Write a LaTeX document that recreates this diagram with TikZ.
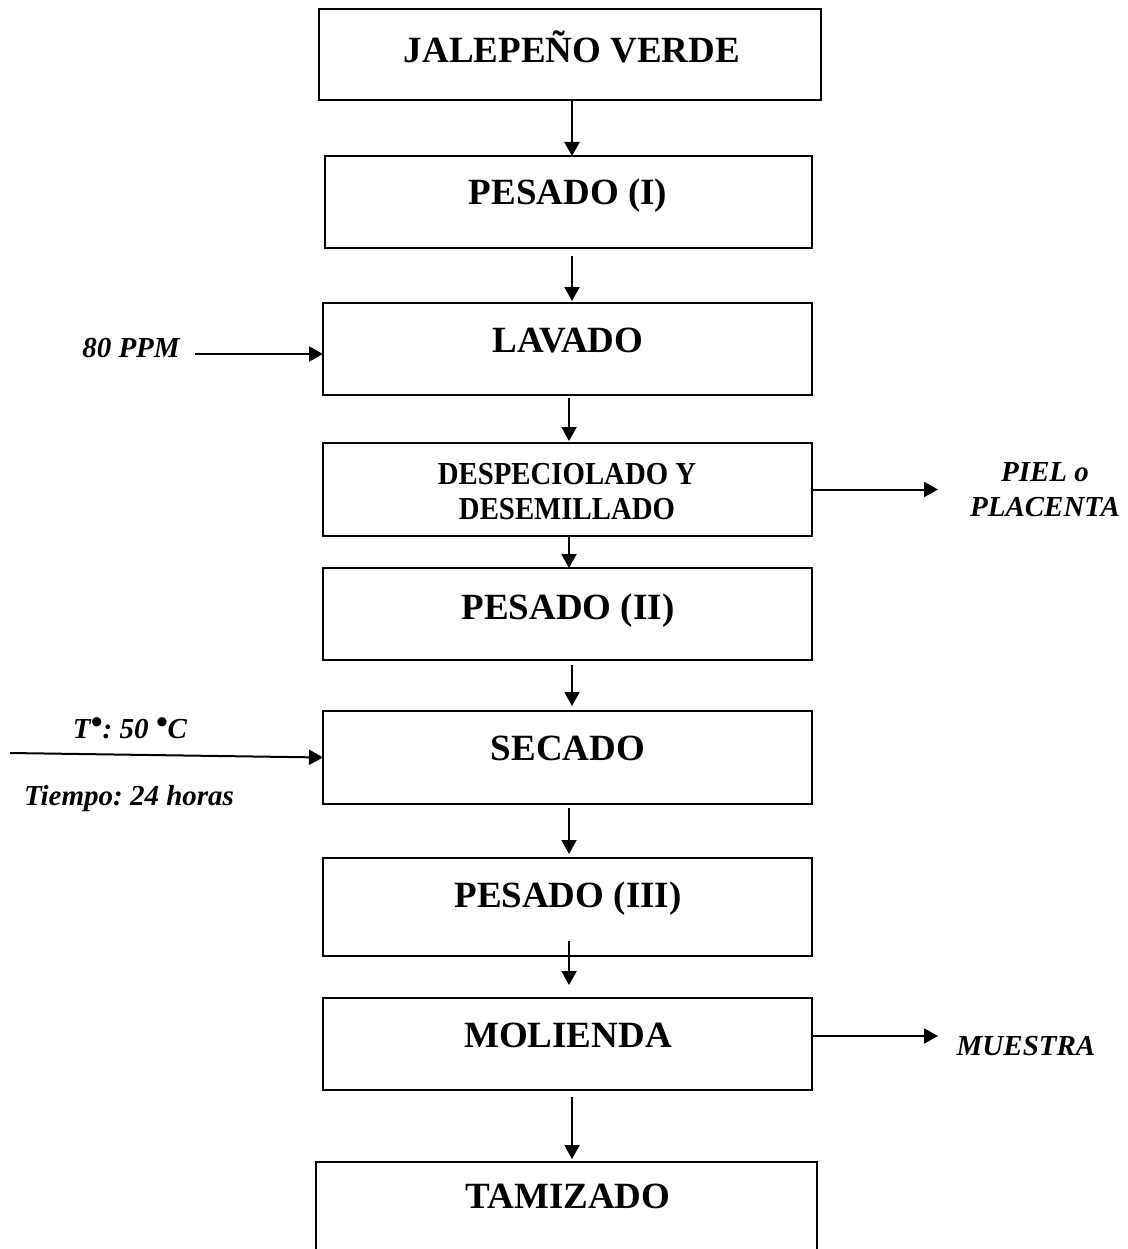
\documentclass[tikz,border=0pt]{standalone}
\usepackage{fontspec}
\setmainfont{Liberation Serif}
\newfontfamily\narrowserif{Liberation Serif}[FakeStretch=0.9]
\usetikzlibrary{arrows.meta,calc}
\frenchspacing

% raised bullet used as degree sign
\newcommand{\degdot}{\raisebox{5pt}{\fontsize{34}{34}\selectfont •}}

\begin{document}
\begin{tikzpicture}[x=1pt,y=-1pt,
  stage/.style={draw, line width=2pt, inner sep=0pt, outer sep=0pt, minimum width=489pt, minimum height=92pt},
  title/.style={font=\fontsize{37}{37}\selectfont\bfseries, inner sep=0pt, anchor=base},
  note/.style={font=\fontsize{29}{35}\selectfont\bfseries\itshape, inner sep=0pt, align=center},
  flow/.style={line width=2pt, -{Triangle[length=14pt,width=15pt]}},
]
\useasboundingbox (0,0) rectangle (1127,1249);
\fill[white] (0,0) rectangle (1127,1249);

% process stages
\node[stage, minimum width=502pt, minimum height=91pt] (b1) at (570,54.5) {};
\node[stage, minimum width=487pt] (b2) at (568.5,202) {};
\node[stage] (b3) at (567.5,349) {};
\node[stage, minimum height=93pt] (b4) at (567.5,489.5) {};
\node[stage] (b5) at (567.5,614) {};
\node[stage, minimum height=93pt] (b6) at (567.5,757.5) {};
\node[stage, minimum height=98pt] (b7) at (567.5,907) {};
\node[stage] (b8) at (567.5,1044) {};
\node[stage, minimum width=501pt, minimum height=130pt] (b9) at (566.5,1227) {};

% stage titles
\node[title] (t1) at (572,63) {JALEPEÑO VERDE};
\node[title] (t2) at (568,205) {PESADO (I)};
\node[title] (t3) at (568,352) {LAVADO};
\node[inner sep=0pt, align=center, font=\narrowserif\fontsize{32}{35}\selectfont\bfseries] (t4) at (567,492) {DESPECIOLADO Y\\DESEMILLADO};
\node[title] (t5) at (568,619) {PESADO (II)};
\node[title] (t6) at (568,760) {SECADO};
\node[title] (t7) at (568,907) {PESADO (III)};
\node[title] (t8) at (568,1047) {MOLIENDA};
\node[title] (t9) at (568,1208) {TAMIZADO};

% main flow
\coordinate (xa) at (572,0);
\coordinate (xb) at (569,0);
\draw[flow] (b1.south -| xa) -- (b2.north -| xa);
\draw[flow, shorten <=8pt, shorten >=2pt] (b2.south -| xa) -- (b3.north -| xa);
\draw[flow, shorten <=3pt, shorten >=2pt] (b3.south -| xb) -- (b4.north -| xb);
\draw[flow] (b4.south -| xb) -- (b5.north -| xb);
\draw[flow, shorten <=5pt, shorten >=5pt] (b5.south -| xa) -- (b6.north -| xa);
\draw[flow, shorten <=4pt, shorten >=4pt] (b6.south -| xb) -- (b7.north -| xb);
\draw[flow, shorten <=-15pt, shorten >=13pt] (b7.south -| xb) -- (b8.north -| xb);
\draw[flow, shorten <=7pt, shorten >=3pt] (b8.south -| xa) -- (b9.north -| xa);

% side inputs and outputs
\node[note, anchor=base] (l1) at (131,357) {80 PPM};
\coordinate (ppm) at (195,354);
\draw[flow] (ppm) -- (b3.west |- ppm);

\coordinate (pe) at (938,489.5);
\draw[flow] (b4.east) -- (pe);
\node[note] (l2) at (1045,490) {PIEL o\\PLACENTA};

\node[note, anchor=base] (l3) at (130,738) {T\degdot: 50 \degdot C};
\node[note, anchor=base] (l4) at (129,805) {Tiempo: 24 horas};
\coordinate (tin) at (10,753);
\draw[flow] (tin) -- (b6.west);

\coordinate (me) at (938,1036);
\draw[flow] (b8.east |- me) -- (me);
\node[note, anchor=base] (l5) at (1026,1055) {MUESTRA};
\end{tikzpicture}
\end{document}
